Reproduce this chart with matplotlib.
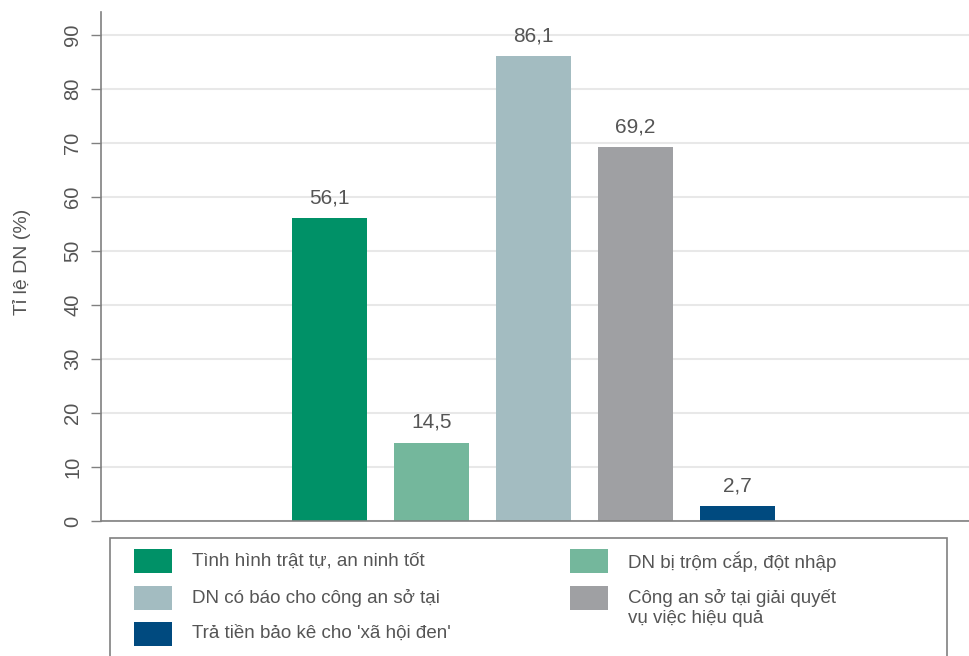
import matplotlib.pyplot as plt
from matplotlib.patches import Rectangle

plt.rcParams['font.family'] = ['Liberation Sans', 'DejaVu Sans']

# data
labels = ['Tình hình trật tự, an ninh tốt',
          'DN bị trộm cắp, đột nhập',
          'DN có báo cho công an sở tại',
          'Công an sở tại giải quyết\nvụ việc hiệu quả',
          "Trả tiền bảo kê cho 'xã hội đen'"]
values = [56.1, 14.5, 86.1, 69.2, 2.7]
value_text = ['56,1', '14,5', '86,1', '69,2', '2,7']
colors = ['#009167', '#74B79C', '#A3BCC1', '#9FA0A3', '#004A7F']
yticks = [0, 10, 20, 30, 40, 50, 60, 70, 80, 90]

W, H = 970, 656
fig = plt.figure(figsize=(W / 100, H / 100), dpi=100)
ax = fig.add_axes([100.5 / W, (H - 521) / H, 1 - 100.5 / W, 509 / H])

txt = '#555555'
axcol = '#808080'

x = list(range(len(values)))
ax.bar(x, values, width=75 / 102, color=colors, zorder=2)
for xi, v, t in zip(x, values, value_text):
    ax.annotate(t, (xi, v), xytext=(0, 8), textcoords='offset points',
                ha='center', va='bottom', fontsize=15, color=txt)

ax.set_xlim(-2.245, 6.28)
ax.set_ylim(0, 94.3)
ax.set_yticks(yticks)
ax.set_xticks([])
ax.grid(axis='y', color='#e8e8e8', linewidth=1.5, zorder=0)
ax.tick_params(axis='y', length=7, width=1, color=axcol, pad=6,
               labelsize=14.5, labelcolor=txt)
for lab in ax.get_yticklabels():
    lab.set_rotation(90)
    lab.set_va('center')
for s in ['top', 'right']:
    ax.spines[s].set_visible(False)
for s in ['left', 'bottom']:
    ax.spines[s].set_color(axcol)
    ax.spines[s].set_linewidth(1.2)
ax.set_ylabel('Tỉ lệ DN (%)', fontsize=14, color=txt)
ax.yaxis.set_label_coords(-70 / (W - 100.5), 259 / 509)

# legend box (drawn by hand, two columns, row-major)
def fx(px):
    return px / W

def fy(py):
    return 1 - py / H

fig.add_artist(Rectangle((fx(110), fy(662)), fx(947) - fx(110), fy(538) - fy(662),
                         transform=fig.transFigure, facecolor='white',
                         edgecolor=axcol, linewidth=1.2, clip_on=False))
col_x = [134, 570]
row_y = [561, 598, 634]
for i, (lab, c) in enumerate(zip(labels, colors)):
    col, row = i % 2, i // 2
    sx, cy = col_x[col], row_y[row]
    fig.add_artist(Rectangle((fx(sx), fy(cy + 12)), fx(38), 24 / H,
                             transform=fig.transFigure, facecolor=c,
                             edgecolor='none'))
    fig.text(fx(sx + 58), fy(cy - 9), lab, ha='left', va='top',
             fontsize=13.5, color=txt, linespacing=1.25)

fig.savefig('out.png', dpi=100)
